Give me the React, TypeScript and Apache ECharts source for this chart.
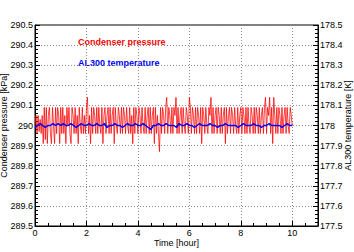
import React, { useEffect, useRef } from "react";
import * as echarts from "echarts";

const PRESSURE_START = 0;
const PRESSURE_STEP = 0.04;
const pressure = [
  290.0, 290.05, 289.96, 290.05, 289.97, 290.03, 289.96, 290.05, 289.91, 290.09,
  289.93, 290.09, 289.91, 290.05, 290.09, 289.96, 289.91, 290.09, 290.0, 289.91,
  290.09, 289.96, 290.09, 290.05, 289.91, 290.09, 289.96, 290.09, 289.96, 290.05,
  289.91, 290.09, 290.0, 290.09, 289.96, 289.91, 290.09, 290.05, 289.96, 290.09,
  289.96, 290.05, 289.91, 290.09, 290.0, 289.96, 290.09, 289.96, 290.05, 289.96,
  290.09, 290.14, 289.96, 290.05, 289.91, 290.09, 289.96, 290.09, 290.05, 289.96,
  290.09, 289.96, 290.09, 290.0, 289.96, 290.09, 289.91, 290.05, 290.09, 289.96,
  290.05, 290.09, 289.96, 290.09, 289.96, 290.05, 290.09, 289.91, 290.09, 290.0,
  289.96, 290.09, 290.05, 289.96, 290.09, 289.96, 290.09, 290.05, 289.96, 290.09,
  290.0, 289.96, 290.09, 289.96, 290.05, 289.91, 290.09, 289.96, 290.09, 290.05,
  289.96, 290.09, 290.05, 289.96, 290.09, 290.0, 289.96, 290.09, 289.96, 290.05,
  290.09, 289.96, 290.09, 289.96, 290.05, 290.09, 289.91, 290.09, 289.96, 290.05,
  289.96, 289.87, 290.09, 289.96, 290.09, 290.05, 289.96, 290.09, 290.14, 289.96,
  290.09, 290.05, 289.96, 290.09, 289.96, 290.09, 290.05, 290.14, 289.96, 290.09,
  289.96, 290.05, 290.09, 289.96, 290.09, 290.0, 289.96, 290.09, 290.05, 289.96,
  290.14, 290.09, 289.96, 290.09, 290.05, 289.96, 290.09, 289.96, 290.09, 290.05,
  289.96, 290.09, 289.91, 290.09, 290.05, 289.96, 290.09, 290.0, 289.96, 290.09,
  290.05, 290.14, 289.96, 290.09, 289.96, 290.05, 290.09, 289.96, 290.09, 290.05,
  289.96, 290.09, 289.96, 290.05, 290.09, 289.91, 290.09, 289.96, 290.05, 290.09,
  289.96, 290.09, 290.05, 289.96, 290.09, 290.0, 289.96, 290.09, 289.96, 290.05,
  290.09, 289.96, 290.09, 290.05, 289.96, 290.09, 289.96, 290.09, 290.0, 289.96,
  290.09, 290.05, 289.96, 290.09, 289.96, 290.09, 290.05, 289.96, 290.09, 289.96,
  290.05, 290.09, 289.96, 290.09, 290.14, 289.96, 290.09, 290.05, 290.14, 289.96,
  290.09, 289.91, 290.14, 290.05, 289.96, 290.09, 289.96, 290.09, 290.05, 289.96,
  290.09, 289.96, 290.05, 290.09, 289.96, 290.09, 290.0, 289.96, 290.09, 290.05,
  290.0,
];

const TEMP_START = 0;
const TEMP_STEP = 0.1;
const temperature = [
  177.99, 178.0, 178.01, 178.0, 177.99, 178.0, 178.0, 178.01, 178.0, 178.01,
  178.0, 178.01, 178.0, 178.0, 178.01, 178.0, 177.99, 178.0, 178.01, 178.0,
  178.0, 178.01, 178.0, 178.0, 178.01, 178.0, 178.0, 178.01, 177.99, 178.0,
  178.0, 178.01, 178.0, 178.0, 177.99, 178.0, 178.01, 178.0, 178.0, 178.01,
  178.0, 178.0, 178.01, 178.0, 177.99, 177.98, 178.0, 178.0, 178.01, 178.0,
  178.0, 178.01, 178.0, 178.0, 178.0, 177.99, 178.01, 178.0, 178.0, 178.01,
  178.0, 178.0, 177.99, 178.0, 178.01, 178.0, 178.0, 178.0, 178.01, 178.0,
  178.0, 177.99, 178.0, 178.0, 178.01, 178.0, 178.0, 178.0, 178.0, 177.99,
  178.0, 178.01, 178.0, 178.0, 178.0, 178.01, 178.0, 178.0, 177.99, 178.0,
  178.0, 178.01, 178.0, 178.0, 178.0, 178.0, 177.99, 178.0, 178.01, 178.0,
  178.0,
];

const X_LABEL = "Time [hour]";
const Y_LEFT_LABEL = "Condenser pressure [kPa]";
const Y_RIGHT_LABEL = "AL300 temperature [K]";
const SERIES_NAMES = ["Condenser pressure", "AL300 temperature"];

const FONT = "Liberation Sans, Arial, sans-serif";

export default function App() {
  const ref = useRef<HTMLDivElement>(null);
  useEffect(() => {
    if (!ref.current) return;
    const chart = echarts.init(ref.current, undefined, { renderer: "svg" });
    const pData = pressure.map((v, i) => [PRESSURE_START + i * PRESSURE_STEP, v]);
    const tData = temperature.map((v, i) => [TEMP_START + i * TEMP_STEP, v]);
    const tickLabel = { fontSize: 9, color: "#000", fontFamily: FONT };
    const nameStyle = { fontSize: 9, color: "#000", fontFamily: FONT };
    const split = { show: true, lineStyle: { color: "#888", type: [1, 2], width: 1 } };
    chart.setOption({
      animation: false,
      grid: {
        left: 35, right: 36, top: 25, bottom: 26, show: true, borderColor: "#000", borderWidth: 1,
        containLabel: false, outerBoundsMode: "none",
      },
      xAxis: {
        type: "value", min: 0, max: 11, interval: 2,
        name: X_LABEL, nameLocation: "middle", nameGap: 12, nameMoveOverlap: false, nameTextStyle: nameStyle,
        axisLine: { show: true, lineStyle: { color: "#000" } },
        axisTick: { show: true, inside: true, length: 5, lineStyle: { color: "#000" } },
        minorTick: { show: true, splitNumber: 4, length: 3, lineStyle: { color: "#000" } },
        axisLabel: { ...tickLabel, margin: 2, showMaxLabel: false },
        splitLine: split,
      },
      yAxis: [
        {
          type: "value", min: 289.5, max: 290.5, interval: 0.1, position: "left",
          name: Y_LEFT_LABEL, nameLocation: "middle", nameGap: 27, nameRotate: 90, nameMoveOverlap: false, nameTextStyle: nameStyle,
          axisLine: { show: true, lineStyle: { color: "#000" } },
          axisTick: { show: true, inside: true, length: 5, lineStyle: { color: "#000" } },
          minorTick: { show: true, splitNumber: 5, length: 3, lineStyle: { color: "#000" } },
          axisLabel: { ...tickLabel, margin: 2 },
          splitLine: split,
        },
        {
          type: "value", min: 177.5, max: 178.5, interval: 0.1, position: "right",
          name: Y_RIGHT_LABEL, nameLocation: "middle", nameGap: 25, nameRotate: 90, nameMoveOverlap: false, nameTextStyle: nameStyle,
          axisLine: { show: true, lineStyle: { color: "#000" } },
          axisTick: { show: true, inside: true, length: 5, lineStyle: { color: "#000" } },
          minorTick: { show: true, splitNumber: 5, length: 3, lineStyle: { color: "#000" } },
          axisLabel: { ...tickLabel, margin: 2 },
          splitLine: { show: false },
        },
      ],
      series: [
        {
          name: SERIES_NAMES[0], type: "line", yAxisIndex: 0, data: pData,
          showSymbol: false, lineStyle: { color: "#ff0000", width: 0.9, opacity: 0.85 },
          z: 2,
        },
        {
          name: SERIES_NAMES[1], type: "line", yAxisIndex: 1, data: tData,
          showSymbol: false, lineStyle: { color: "#0000ff", width: 1.5 },
          z: 3,
        },
      ],
      graphic: [
        { type: "text", left: 78, top: 37, style: { text: SERIES_NAMES[0], fill: "#ff0000", font: `bold 9px ${FONT}` } },
        { type: "text", left: 78, top: 58, style: { text: SERIES_NAMES[1], fill: "#0000ff", font: `bold 9px ${FONT}` } },
      ],
    });
    return () => chart.dispose();
  }, []);
  return <div ref={ref} style={{ width: 354, height: 252, position: "absolute", left: 0, top: 0, background: "#fff" }} />;
}
